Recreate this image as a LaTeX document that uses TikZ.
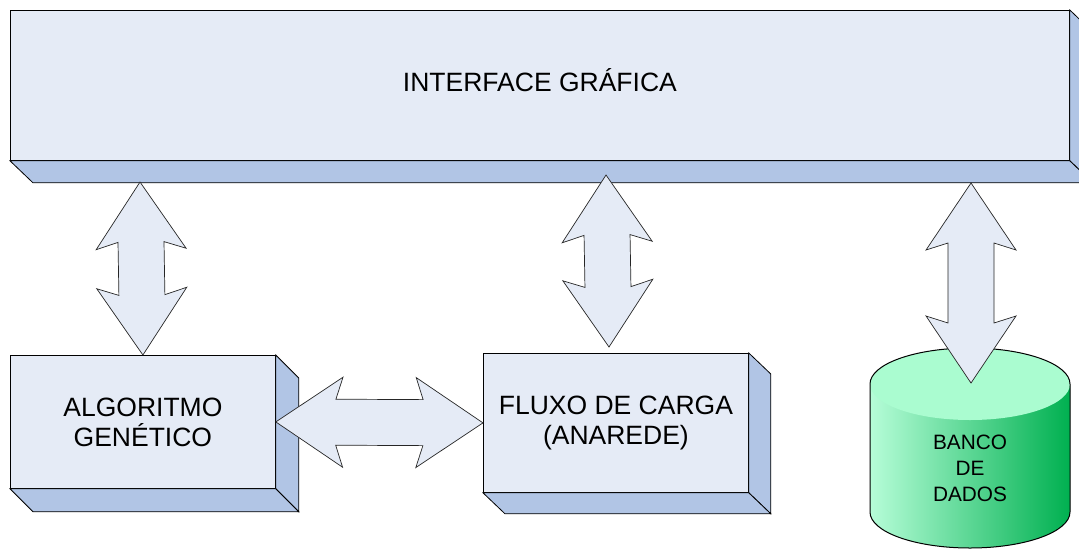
\documentclass[tikz,border=0pt]{standalone}
\usepackage{fontspec}
\setmainfont{Liberation Sans}
\usetikzlibrary{calc}

\definecolor{facefill}{HTML}{E5EBF6}
\definecolor{sidefill}{HTML}{B1C5E5}
\definecolor{dbtop}{HTML}{AAFCD0}
\definecolor{dblight}{HTML}{B6FDD8}
\definecolor{dbdark}{HTML}{00B050}

\tikzset{
  face/.style={draw=black, fill=facefill, line width=0.8pt, inner sep=0pt,
               anchor=north west, font=\fontsize{26.5}{30}\selectfont, align=center},
  sideface/.style={draw=black, fill=sidefill, line width=0.8pt},
  blockarrow/.style={draw=black!85, fill=facefill, line width=0.7pt, line join=miter},
  biglabel/.style={font=\fontsize{26.5}{30}\selectfont, align=center, inner sep=0pt},
  dblabel/.style={font=\fontsize{20.8}{26}\selectfont, align=center, inner sep=0pt},
  dbline/.style={draw=black, line width=1pt},
}

% right and bottom faces of a raised box: node name, depth x, depth y
\newcommand{\boxsides}[3]{%
  \filldraw[sideface] (#1.north east) -- ++(#2,#3)
    -- ($(#1.south east)+(#2,#3)$) -- (#1.south east) -- cycle;
  \filldraw[sideface] (#1.south west) -- ++(#2,#3)
    -- ($(#1.south east)+(#2,#3)$) -- (#1.south east) -- cycle;
}

% double-headed block arrow between two points
\newcommand{\dblarrow}[2]{%
  \draw[blockarrow]
    (#1)
    -- ($(#1)!67pt!(#2)!45pt!90:(#2)$)
    -- ($(#1)!60pt!(#2)!23pt!90:(#2)$)
    -- ($(#2)!60pt!(#1)!23pt!-90:(#1)$)
    -- ($(#2)!67pt!(#1)!45pt!-90:(#1)$)
    -- (#2)
    -- ($(#2)!67pt!(#1)!45pt!90:(#1)$)
    -- ($(#2)!60pt!(#1)!23pt!90:(#1)$)
    -- ($(#1)!60pt!(#2)!23pt!-90:(#2)$)
    -- ($(#1)!67pt!(#2)!45pt!-90:(#2)$)
    -- cycle;
}

\begin{document}
\begin{tikzpicture}[x=1pt, y=-1pt]
  \useasboundingbox (0,0) rectangle (1079,550);
  \clip (0,0) rectangle (1079,550);

  % graphical interface bar
  \node[face, minimum width=1059pt, minimum height=150pt] (gui) at (10,10) {};
  \boxsides{gui}{23}{22}
  \node[biglabel] (guitext) at ($(gui.center)+(0,-5)$) {INTERFACE GRÁFICA};

  % genetic algorithm block
  \node[face, minimum width=265pt, minimum height=133pt] (alg) at (10,355)
    {ALGORITMO\\GENÉTICO};
  \boxsides{alg}{23}{23}

  % load flow block
  \node[face, minimum width=265pt, minimum height=139pt] (flux) at (483,353)
    {FLUXO DE CARGA\\(ANAREDE)};
  \boxsides{flux}{22}{21}

  % database cylinder
  \shade[left color=dblight, right color=dbdark]
    (870,384) -- (870,512)
    arc[start angle=180, end angle=360, x radius=100pt, y radius=36pt]
    -- (1070,384) -- cycle;
  \fill[dbtop] (970,384) ellipse[x radius=100pt, y radius=36pt];
  \draw[dbline] (870,512) -- (870,384)
    arc[start angle=180, end angle=0, x radius=100pt, y radius=36pt]
    -- (1070,512)
    arc[start angle=0, end angle=-180, x radius=100pt, y radius=36pt];
  \node[dblabel] (db) at (970,468) {BANCO\\DE\\DADOS};

  % arrow end points
  \coordinate (guiA) at (140,182);
  \coordinate (guiB) at (606,175);
  \coordinate (fluxTop) at (609,347);
  \coordinate (guiC) at (971,183);
  \coordinate (dbTop) at (971,383);

  % connections
  \dblarrow{guiA}{alg.north}
  \dblarrow{guiB}{fluxTop}
  \dblarrow{guiC}{dbTop}
  \dblarrow{alg.east}{flux.west}
\end{tikzpicture}
\end{document}
